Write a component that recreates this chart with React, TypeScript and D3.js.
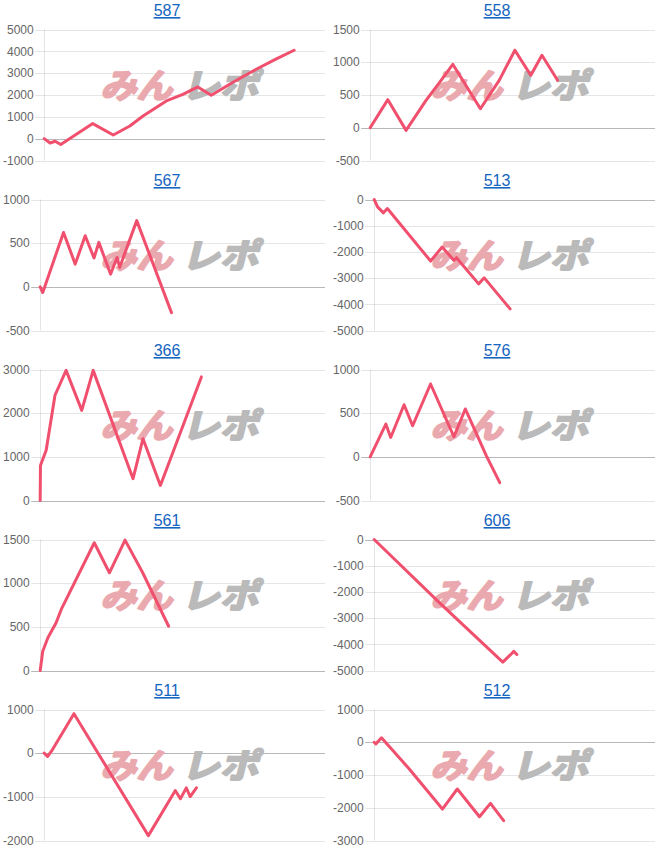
import React from "react";
import * as d3 from "d3";

const titles = ["587", "558", "567", "513", "366", "576", "561", "606", "511", "512"];
const yMins = [-1000, -500, -500, -5000, 0, -500, 0, -5000, -2000, -3000];
const yMaxs = [5000, 1500, 1000, 0, 3000, 1000, 1500, 0, 1000, 1000];
const ySteps = [1000, 500, 500, 1000, 1000, 500, 500, 1000, 1000, 1000];

// x = position along the play count (0..100), y = difference
const s587: [number, number][] = [[0, 0], [2.1, -200], [3.9, -120], [5.9, -270], [17.3, 690], [24.6, 170], [30.5, 580], [35.2, 1040], [43.5, 1730], [49.4, 2030], [54.7, 2370], [59.5, 1990], [67.1, 2570], [75.5, 3180], [82.5, 3640], [89.0, 4050]];
const s558: [number, number][] = [[0, 0], [6.2, 429], [12.6, -40], [19.6, 418], [24.9, 724], [29.0, 969], [38.7, 290], [45.3, 724], [50.8, 1184], [56.4, 800], [60.3, 1107], [65.8, 724]];
const s567: [number, number][] = [[0, 0], [0.9, -65], [8.2, 623], [12.3, 260], [15.8, 585], [18.9, 330], [20.6, 509], [24.7, 146], [27.0, 336], [27.9, 222], [33.9, 758], [46.1, -295]];
const s513: [number, number][] = [[0, 0], [1.2, -280], [3.3, -510], [4.7, -345], [20.1, -2350], [24.2, -1815], [28.4, -2325], [29.3, -2220], [37.2, -3220], [39.2, -2990], [48.4, -4175]];
const s366: [number, number][] = [[0, 0], [0.1, 800], [2.1, 1150], [5.2, 2410], [9.1, 2980], [14.6, 2065], [18.6, 2980], [32.6, 500], [36.1, 1415], [42.2, 345], [56.6, 2830]];
const s576: [number, number][] = [[0, 0], [5.5, 375], [7.2, 222], [11.9, 597], [14.9, 356], [21.2, 834], [29.4, 230], [33.4, 548], [40.8, 11], [45.5, -295]];
const s561: [number, number][] = [[0, 0], [0.9, 221], [2.7, 374], [5.6, 546], [7.4, 699], [19.0, 1463], [24.3, 1119], [29.8, 1493], [36.0, 1119], [45.1, 507]];
const s606: [number, number][] = [[0, 0], [23.3, -2416], [45.8, -4680], [49.1, -4340], [49.7, -4265], [50.8, -4390]];
const s511: [number, number][] = [[0, 0], [1.2, -76], [2.6, 46], [10.6, 904], [37.1, -1888], [46.7, -855], [48.5, -1046], [50.6, -794], [52.0, -993], [54.2, -794]];
const s512: [number, number][] = [[0, 0], [0.6, -50], [2.6, 135], [12.5, -815], [24.3, -2040], [29.6, -1427], [37.5, -2275], [41.4, -1865], [46.1, -2395]];

const series = [s587, s558, s567, s513, s366, s576, s561, s606, s511, s512];

const FONT = "'Liberation Sans', Arial, Helvetica, sans-serif";
const PW = 330;
const PH = 170;

function labelWidth(s: string) {
  let w = 0;
  for (const ch of s) w += ch === "-" ? 4.0 : 6.67;
  return w;
}

function Panel({ i }: { i: number }) {
  const px = (i % 2) * PW;
  const py = Math.floor(i / 2) * PH;
  const ticks = d3.range(yMins[i], yMaxs[i] + 1, ySteps[i]);
  const maxW = d3.max(ticks, (t) => labelWidth(String(t))) || 0;
  const left = 2.5 + maxW + 11;
  const right = 325;
  const top = 29.5;
  const bottom = 160.5;
  const x = d3.scaleLinear().domain([0, 100]).range([left, right]);
  const y = d3.scaleLinear().domain([yMins[i], yMaxs[i]]).range([bottom, top]);
  const line = d3
    .line<[number, number]>()
    .x((d) => x(d[0]))
    .y((d) => y(d[1]));
  return (
    <g transform={`translate(${px},${py})`}>
      <text
        x={167}
        y={16}
        textAnchor="middle"
        fontFamily={FONT}
        fontSize={16}
        fill="#1565c0"
        textDecoration="underline"
      >
        {titles[i]}
      </text>
      {ticks.map((t) => (
        <g key={t}>
          <line
            x1={left - 9}
            x2={right}
            y1={Math.round(y(t)) + 0.5}
            y2={Math.round(y(t)) + 0.5}
            stroke={t === 0 ? "rgba(0,0,0,0.28)" : "rgba(0,0,0,0.1)"}
            strokeWidth={1}
          />
          <text
            x={left - 10.5}
            y={y(t)}
            dy="0.35em"
            textAnchor="end"
            fontFamily={FONT}
            fontSize={12}
            fill="#666"
          >
            {t}
          </text>
        </g>
      ))}
      <line
        x1={Math.round(left) + 0.5}
        x2={Math.round(left) + 0.5}
        y1={top}
        y2={bottom + 0}
        stroke="rgba(0,0,0,0.1)"
      />
      <g fontFamily="'Noto Sans CJK JP', sans-serif" fontWeight={700}>
        <text
          x={104}
          y={98}
          fontSize={34}
          fill="#eaa9ae"
          stroke="#eaa9ae"
          strokeWidth={2.2}
          strokeLinejoin="round"
          textLength={72}
          lengthAdjust="spacingAndGlyphs"
          transform="skewX(-14) translate(21,0)"
        >
          みん
        </text>
        <text
          x={185}
          y={98}
          fontSize={34}
          fill="#bababa"
          stroke="#bababa"
          strokeWidth={2.2}
          strokeLinejoin="round"
          textLength={77}
          lengthAdjust="spacingAndGlyphs"
          transform="skewX(-14) translate(21,0)"
        >
          レポ
        </text>
      </g>
      <path
        d={line(series[i]) || ""}
        fill="none"
        stroke="#f0506e"
        strokeWidth={3}
        strokeLinejoin="round"
        strokeLinecap="round"
      />
    </g>
  );
}

export default function App() {
  return (
    <svg
      width={660}
      height={850}
      style={{ position: "absolute", left: 0, top: 0, background: "#fff" }}
    >
      {titles.map((_, i) => (
        <Panel key={i} i={i} />
      ))}
    </svg>
  );
}
